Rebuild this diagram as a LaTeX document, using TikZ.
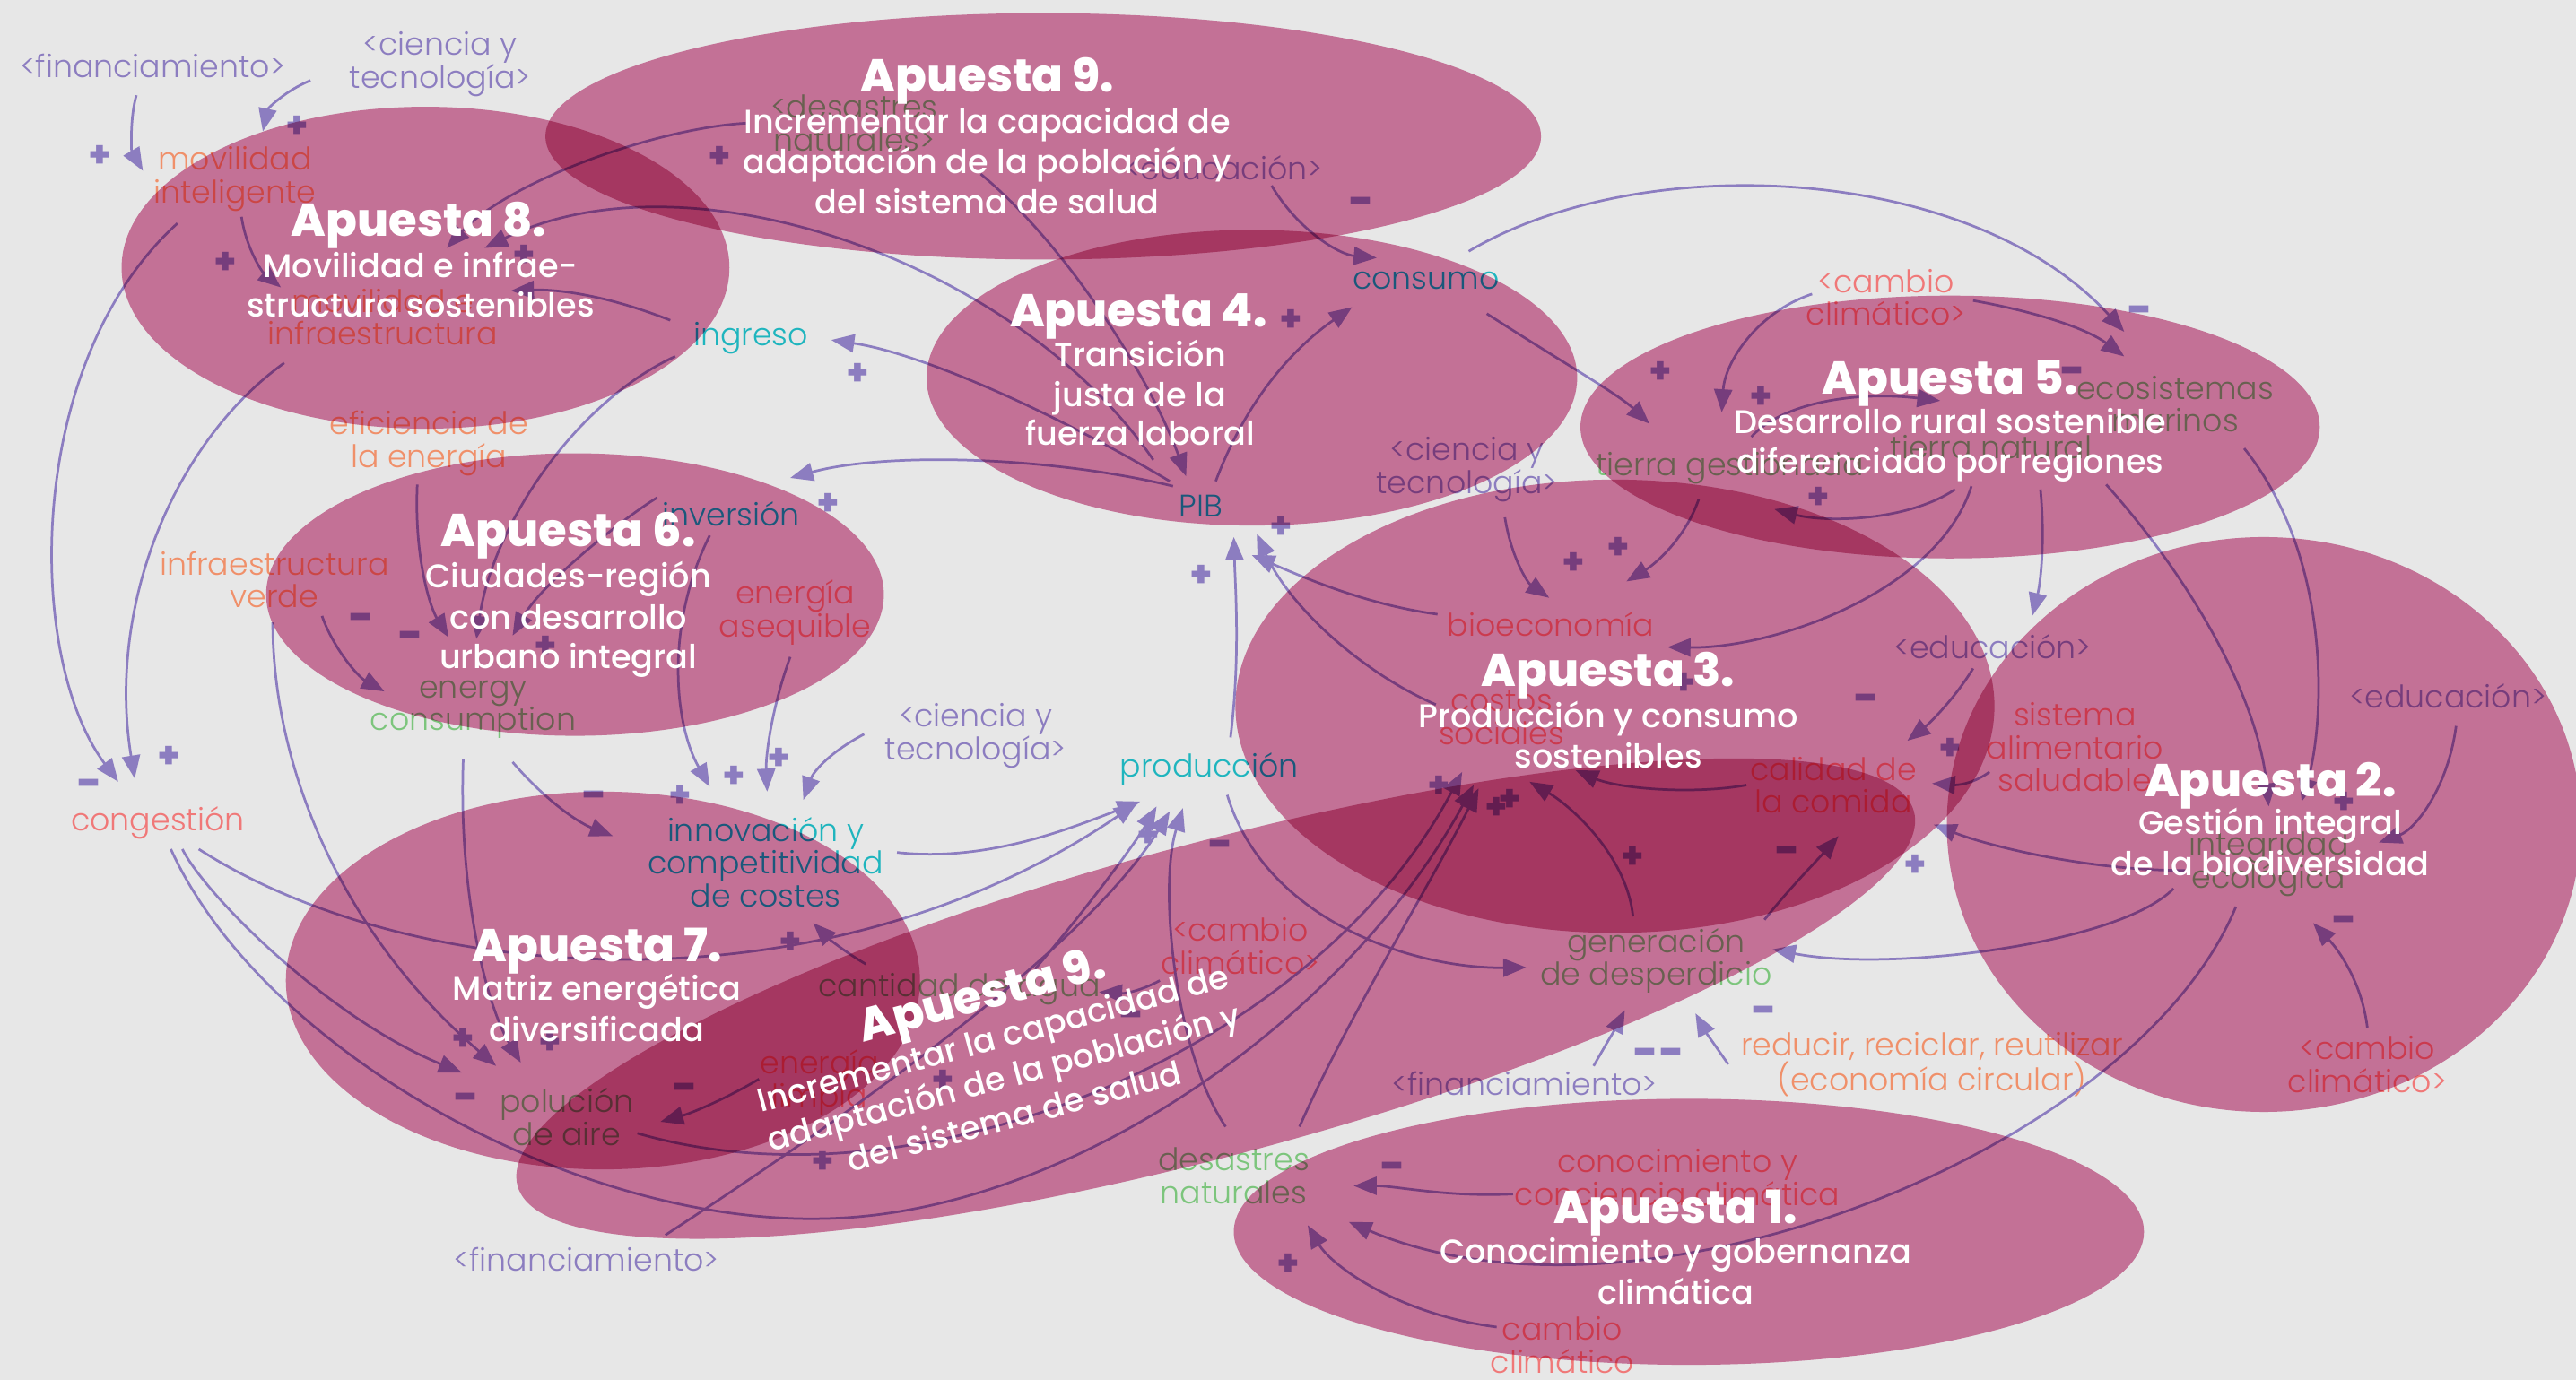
\documentclass[tikz,border=0pt]{standalone}
\usepackage{fontspec}
\setmainfont{Poppins}
\newfontfamily\lblfont{Poppins Light}
\newfontfamily\ttlfont{Poppins ExtraBold}
\newfontfamily\apsubfont{Poppins Medium}
\usetikzlibrary{arrows.meta}
\definecolor{bgc}{HTML}{E7E7E7}
\definecolor{ellc}{HTML}{D87DA6}
\definecolor{lav}{HTML}{8C7DC0}
\definecolor{tealc}{HTML}{1FB5BE}
\definecolor{grn}{HTML}{7CC57C}
\definecolor{org}{HTML}{F0906A}
\definecolor{sal}{HTML}{F07878}
\tikzset{
 lbl/.style={font=\lblfont\fontsize{19}{20}\selectfont, align=center, inner sep=1pt},
 sgnp/.style={font=\ttlfont\fontsize{22}{22}\selectfont, text=lav, inner sep=0pt},
 sgnm/.style={font=\ttlfont\fontsize{26}{26}\selectfont, text=lav, inner sep=0pt},
 arr/.style={draw=lav, line width=1.5pt, -{Triangle[length=14pt,width=11pt]}},
 ttl/.style={font=\ttlfont\fontsize{28}{30}\selectfont, text=white, anchor=base, inner sep=0pt},
 sub/.style={font=\apsubfont\fontsize{20}{24}\selectfont, text=white, anchor=base, inner sep=0pt},
 ell/.style={fill=ellc}
}
\begin{document}
\begin{tikzpicture}[x=1pt,y=-1pt]
\useasboundingbox (0,0) rectangle (1568,840);
\fill[bgc] (0,0) rectangle (1568,840);
\clip (0,0) rectangle (1568,840);

% ---------- labels ----------
\node[lbl,text=lav] (fin1) at (93,40) {<financiamiento>};
\node[lbl,text=lav] (cyt1) at (268,39) {<ciencia y\\tecnología>};
\node[lbl,text=org] (movint) at (143,109) {movilidad\\inteligente};
\node[lbl,text=org] (movinf) at (233,193) {movilidad e\\infraestructura};
\node[lbl,text=grn] (des1) at (520,75) {<desastres\\naturales>};
\node[lbl,text=lav] (edu1) at (745,102) {<educación>};
\node[lbl,text=tealc] (ingreso) at (457,206) {ingreso};
\node[lbl,text=tealc] (consumo) at (868,171) {consumo};
\node[lbl,text=sal] (cc1) at (1148,181) {<cambio\\climático>};
\node[lbl,text=grn] (ecomar) at (1324,246) {ecosistemas\\marinos};
\node[lbl,text=grn] (tgest) at (1053,285) {tierra gestionada};
\node[lbl,text=grn] (tnat) at (1212,272) {tierra natural};
\node[lbl,text=lav] (cyt2) at (893,286) {<ciencia y\\tecnología>};
\node[lbl,text=tealc] (pib) at (731,308) {PIB};
\node[lbl,text=tealc] (inversion) at (445,313) {inversión};
\node[lbl,text=org] (efic) at (261,270) {eficiencia de\\la energía};
\node[lbl,text=org] (infverde) at (167,353) {infraestructura\\verde};
\node[lbl,text=sal] (easeq) at (484,373) {energía\\asequible};
\node[lbl,text=sal] (bioec) at (944,380) {bioeconomía};
\node[lbl,text=lav] (edu2) at (1213,394) {<educación>};
\node[lbl,text=lav] (edu3) at (1490,424) {<educación>};
\node[lbl,text=sal] (costos) at (914,437) {costos\\sociales};
\node[lbl,text=sal] (sistali) at (1263,455) {sistema\\alimentario\\saludable};
\node[lbl,text=sal] (calidad) at (1116,478) {calidad de\\la comida};
\node[lbl,text=grn] (energy) at (288,432) {energy\\consumption};
\node[lbl,text=lav] (cyt3) at (594,448) {<ciencia y\\tecnología>};
\node[lbl,text=tealc] (produccion) at (736,468) {producción};
\node[lbl,text=tealc] (innov) at (466,525) {innovación y\\competitividad\\de costes};
\node[lbl,text=sal] (congestion) at (96,501) {congestión};
\node[lbl,text=grn] (integ) at (1381,526) {integridad\\ecológica};
\node[lbl,text=grn] (genera) at (1008,585) {generación\\de desperdicio};
\node[lbl,text=sal] (cc2) at (755,576) {<cambio\\climático>};
\node[lbl,text=grn] (agua) at (584,602) {cantidad de agua};
\node[lbl,text=sal] (elimpia) at (499,659) {energía\\limpia};
\node[lbl,text=org] (reducir) at (1176,648) {reducir, reciclar, reutilizar\\(economía circular)};
\node[lbl,text=lav] (fin2) at (928,660) {<financiamiento>};
\node[lbl,text=grn] (polucion) at (345,680) {polución\\de aire};
\node[lbl,text=sal] (cc3) at (1441,648) {<cambio\\climático>};
\node[lbl,text=grn] (desastres) at (751,716) {desastres\\naturales};
\node[lbl,text=sal] (conoc) at (1021,717) {conocimiento y\\conciencia climática};
\node[lbl,text=lav] (fin3) at (357,767) {<financiamiento>};
\node[lbl,text=sal] (cambio) at (951,819) {cambio\\climático};

% ---------- connectors ----------
\draw[arr] ([shift={(-10,18)}]fin1.center) .. controls (79,72) and (80,92) .. ([shift={(-56,-5)}]movint.center);
\draw[arr] ([shift={(-79,10)}]cyt1.center) .. controls (174,55) and (163,66) .. ([shift={(17,-29)}]movint.center);
\draw[arr] ([shift={(4,23)}]movint.center) .. controls (150,152) and (160,166) .. ([shift={(-62,-18)}]movinf.center);
\draw[arr] ([shift={(-35,27)}]movint.center) .. controls (15,220) and (15,400) .. ([shift={(-24,-25)}]congestion.center);
\draw[arr] ([shift={(-60,28)}]movinf.center) .. controls (105,270) and (65,370) .. ([shift={(-14,-27)}]congestion.center);
\draw[arr] ([shift={(-66,0)}]des1.center) .. controls (400,78) and (310,110) .. ([shift={(39,-42)}]movinf.center);
\draw[arr] ([shift={(-29,-28)}]pib.center) .. controls (620,160) and (420,90) .. ([shift={(62,-42)}]movinf.center);
\draw[arr] ([shift={(-49,-11)}]ingreso.center) .. controls (370,180) and (340,176) .. ([shift={(78,-16)}]movinf.center);
\draw[arr] ([shift={(-46,11)}]ingreso.center) .. controls (350,245) and (300,320) .. ([shift={(2,-43)}]energy.center);
\draw[arr] ([shift={(-7,25)}]efic.center) .. controls (252,340) and (262,370) .. ([shift={(-15,-44)}]energy.center);
\draw[arr] ([shift={(-45,-10)}]inversion.center) .. controls (380,315) and (330,355) .. ([shift={(24,-45)}]energy.center);
\draw[arr] ([shift={(29,22)}]infverde.center) .. controls (203,395) and (218,412) .. ([shift={(-54,-11)}]energy.center);
\draw[arr] ([shift={(-6,30)}]energy.center) .. controls (279,540) and (295,610) .. ([shift={(-28,-33)}]polucion.center);
\draw[arr] ([shift={(24,32)}]energy.center) .. controls (330,485) and (350,500) .. ([shift={(-93,-16)}]innov.center);
\draw[arr] ([shift={(-1,26)}]infverde.center) .. controls (166,470) and (210,570) .. ([shift={(-43,-31)}]polucion.center);
\draw[arr] ([shift={(15,16)}]congestion.center) .. controls (125,545) and (200,620) .. ([shift={(-64,-27)}]polucion.center);
\draw[arr] ([shift={(25,16)}]congestion.center) .. controls (250,600) and (500,620) .. ([shift={(-44,21)}]produccion.center);
\draw[arr] ([shift={(8,16)}]congestion.center) .. controls (160,640) and (350,745) .. (500,742) .. controls (650,740) and (820,620) .. ([shift={(-17,41)}]costos.center);
\draw[arr] ([shift={(43,10)}]polucion.center) .. controls (560,740) and (800,640) .. ([shift={(-24,33)}]costos.center);
\draw[arr] ([shift={(40,-30)}]desastres.center) .. controls (820,620) and (870,540) .. ([shift={(-14,43)}]costos.center);
\draw[arr] ([shift={(-53,0)}]calidad.center) .. controls (1030,484) and (985,480) .. ([shift={(45,32)}]costos.center);
\draw[arr] ([shift={(-14,-27)}]genera.center) .. controls (990,520) and (955,490) .. ([shift={(17,39)}]costos.center);
\draw[arr] ([shift={(11,16)}]produccion.center) .. controls (770,560) and (860,590) .. ([shift={(-79,4)}]genera.center);
\draw[arr] ([shift={(13,-19)}]produccion.center) .. controls (755,400) and (752,360) .. ([shift={(20,19)}]pib.center);
\draw[arr] ([shift={(-69,-6)}]bioec.center) .. controls (830,368) and (790,350) .. ([shift={(31,30)}]pib.center);
\draw[arr] ([shift={(-40,-8)}]costos.center) .. controls (830,410) and (785,370) .. ([shift={(34,17)}]pib.center);
\draw[arr] ([shift={(-19,-15)}]pib.center) .. controls (640,250) and (560,215) .. ([shift={(49,1)}]ingreso.center);
\draw[arr] ([shift={(-17,-12)}]pib.center) .. controls (640,278) and (540,275) .. ([shift={(36,-22)}]inversion.center);
\draw[arr] ([shift={(77,31)}]des1.center) .. controls (650,150) and (700,230) .. ([shift={(-9,-18)}]pib.center);
\draw[arr] ([shift={(29,11)}]edu1.center) .. controls (790,140) and (815,155) .. ([shift={(-30,-14)}]consumo.center);
\draw[arr] ([shift={(9,-15)}]pib.center) .. controls (760,240) and (790,210) .. ([shift={(-45,16)}]consumo.center);
\draw[arr] ([shift={(37,20)}]consumo.center) .. controls (950,220) and (985,240) .. ([shift={(-49,-27)}]tgest.center);
\draw[arr] ([shift={(26,-18)}]consumo.center) .. controls (1000,90) and (1200,100) .. ([shift={(-31,-44)}]ecomar.center);
\draw[arr] ([shift={(53,2)}]cc1.center) .. controls (1240,190) and (1270,200) .. ([shift={(-31,-29)}]ecomar.center);
\draw[arr] ([shift={(-45,-2)}]cc1.center) .. controls (1070,190) and (1050,220) .. ([shift={(-5,-34)}]tgest.center);
\draw[arr] ([shift={(13,-19)}]tgest.center) .. controls (1085,245) and (1130,238) .. ([shift={(-31,-28)}]tnat.center);
\draw[arr] ([shift={(-22,26)}]tnat.center) .. controls (1160,318) and (1110,318) .. ([shift={(27,25)}]tgest.center);
\draw[arr] ([shift={(-19,19)}]tgest.center) .. controls (1025,330) and (1005,345) .. ([shift={(46,-26)}]bioec.center);
\draw[arr] ([shift={(23,29)}]cyt2.center) .. controls (920,340) and (930,355) .. ([shift={(-1,-16)}]bioec.center);
\draw[arr] ([shift={(-12,24)}]tnat.center) .. controls (1180,360) and (1080,395) .. ([shift={(71,14)}]bioec.center);
\draw[arr] ([shift={(30,26)}]tnat.center) .. controls (1245,330) and (1242,355) .. ([shift={(24,-19)}]edu2.center);
\draw[arr] ([shift={(70,23)}]tnat.center) .. controls (1340,360) and (1375,430) .. ([shift={(0,-35)}]integ.center);
\draw[arr] ([shift={(42,27)}]ecomar.center) .. controls (1420,340) and (1415,440) .. ([shift={(20,-38)}]integ.center);
\draw[arr] ([shift={(5,18)}]edu3.center) .. controls (1490,480) and (1470,505) .. ([shift={(67,-13)}]integ.center);
\draw[arr] ([shift={(0,-22)}]cc3.center) .. controls (1438,600) and (1425,580) .. ([shift={(27,36)}]integ.center);
\draw[arr] ([shift={(-58,15)}]integ.center) .. controls (1290,575) and (1150,592) .. ([shift={(71,-7)}]genera.center);
\draw[arr] ([shift={(-20,26)}]integ.center) .. controls (1300,700) and (1000,820) .. ([shift={(70,28)}]desastres.center);
\draw[arr] ([shift={(-100,10)}]conoc.center) .. controls (880,729) and (850,722) .. ([shift={(73,6)}]desastres.center);
\draw[arr] ([shift={(-40,-11)}]cambio.center) .. controls (850,800) and (810,770) .. ([shift={(45,30)}]desastres.center);
\draw[arr] ([shift={(-52,15)}]sistali.center) .. controls (1200,478) and (1190,478) .. ([shift={(60,-1)}]calidad.center);
\draw[arr] ([shift={(-12,13)}]edu2.center) .. controls (1190,425) and (1175,440) .. ([shift={(45,-27)}]calidad.center);
\draw[arr] ([shift={(-51,4)}]integ.center) .. controls (1270,530) and (1210,515) .. ([shift={(61,24)}]calidad.center);
\draw[arr] ([shift={(66,-25)}]genera.center) .. controls (1090,540) and (1105,525) .. ([shift={(3,31)}]calidad.center);
\draw[arr] ([shift={(42,-11)}]fin2.center) .. controls (978,635) and (984,625) .. ([shift={(-19,30)}]genera.center);
\draw[arr] ([shift={(-124,0)}]reducir.center) .. controls (1045,638) and (1038,628) .. ([shift={(24,32)}]genera.center);
\draw[arr] ([shift={(-68,-1)}]cyt3.center) .. controls (505,458) and (495,470) .. ([shift={(23,-38)}]innov.center);
\draw[arr] ([shift={(-3,27)}]easeq.center) .. controls (470,430) and (466,460) .. ([shift={(1,-43)}]innov.center);
\draw[arr] ([shift={(-13,13)}]inversion.center) .. controls (405,380) and (410,440) .. ([shift={(-34,-46)}]innov.center);
\draw[arr] ([shift={(80,-6)}]innov.center) .. controls (600,525) and (650,505) .. ([shift={(-42,20)}]produccion.center);
\draw[arr] ([shift={(-57,-15)}]agua.center) .. controls (515,580) and (505,572) .. ([shift={(29,37)}]innov.center);
\draw[arr] ([shift={(-49,21)}]cc2.center) .. controls (695,603) and (685,605) .. ([shift={(85,2)}]agua.center);
\draw[arr] ([shift={(46,-12)}]agua.center) .. controls (660,555) and (690,515) .. ([shift={(-32,23)}]produccion.center);
\draw[arr] ([shift={(-5,-30)}]desastres.center) .. controls (715,640) and (705,540) .. ([shift={(-16,24)}]produccion.center);
\draw[arr] ([shift={(48,-15)}]fin3.center) .. controls (500,690) and (660,580) .. ([shift={(-24,26)}]produccion.center);
\draw[arr] ([shift={(-37,-2)}]elimpia.center) .. controls (440,670) and (420,678) .. ([shift={(57,3)}]polucion.center);

% ---------- polarity signs ----------
\node[sgnp] (g1) at (61,95) {+};
\node[sgnp] (g2) at (181,77) {+};
\node[sgnp] (g3) at (137,160) {+};
\node[sgnm] (g4) at (55,480) {-};
\node[sgnp] (g5) at (103,461) {+};
\node[sgnp] (g6) at (438,96) {+};
\node[sgnp] (g7) at (319,156) {+};
\node[sgnp] (g8) at (522,228) {+};
\node[sgnp] (g9) at (504,307) {+};
\node[sgnm] (g10) at (829,126) {-};
\node[sgnp] (g11) at (786,195) {+};
\node[sgnp] (g12) at (1011,227) {+};
\node[sgnp] (g13) at (1072,242) {+};
\node[sgnm] (g14) at (1262,229) {-};
\node[sgnm] (g15) at (1303,192) {-};
\node[sgnp] (g16) at (1107,303) {+};
\node[sgnp] (g17) at (985,334) {+};
\node[sgnp] (g18) at (958,343) {+};
\node[sgnm] (g19) at (220,379) {-};
\node[sgnm] (g20) at (250,390) {-};
\node[sgnp] (g21) at (332,394) {+};
\node[sgnp] (g22) at (282,633) {+};
\node[sgnm] (g23) at (284,671) {-};
\node[sgnp] (g24) at (335,635) {+};
\node[sgnm] (g25) at (362,487) {-};
\node[sgnp] (g26) at (414,485) {+};
\node[sgnp] (g27) at (447,473) {+};
\node[sgnp] (g28) at (474,462) {+};
\node[sgnp] (g29) at (731,351) {+};
\node[sgnp] (g30) at (780,321) {+};
\node[sgnp] (g31) at (481,574) {+};
\node[sgnp] (g32) at (699,509) {+};
\node[sgnm] (g33) at (743,517) {-};
\node[sgnm] (g34) at (689,621) {-};
\node[sgnm] (g35) at (417,665) {-};
\node[sgnp] (g36) at (501,708) {+};
\node[sgnp] (g37) at (574,658) {+};
\node[sgnp] (g38) at (876,479) {+};
\node[sgnp] (g39) at (911,492) {+};
\node[sgnp] (g40) at (919,487) {+};
\node[sgnp] (g41) at (994,522) {+};
\node[sgnm] (g42) at (1088,521) {-};
\node[sgnp] (g43) at (1166,527) {+};
\node[sgnp] (g44) at (1187,456) {+};
\node[sgnm] (g45) at (1136,428) {-};
\node[sgnp] (g46) at (1427,489) {+};
\node[sgnm] (g47) at (1427,563) {-};
\node[sgnm] (g48) at (1002,644) {-};
\node[sgnm] (g49) at (1018,644) {-};
\node[sgnm] (g50) at (1074,618) {-};
\node[sgnm] (g51) at (848,713) {-};
\node[sgnp] (g52) at (784,770) {+};
\node[sgnp] (g53) at (1025,416) {+};

% ---------- apuesta ellipses (multiply) ----------
\begin{scope}[blend mode=multiply]
\fill[ell] (635,83) ellipse [x radius=303pt, y radius=75pt];
\fill[ell] (259,163) ellipse [x radius=185pt, y radius=98pt];
\fill[ell] (762,230) ellipse [x radius=198pt, y radius=90pt];
\fill[ell] (1187,260) ellipse [x radius=225pt, y radius=80pt];
\fill[ell] (350,362) ellipse [x radius=188pt, y radius=86pt];
\fill[ell] (983,430) ellipse [x radius=231pt, y radius=138pt];
\fill[ell] (1378,502) ellipse [x radius=193pt, y radius=175pt];
\fill[ell] (367,597) ellipse [x radius=193pt, y radius=115pt];
\fill[ell, rotate around={15:(740,608)}] (740,608) ellipse [x radius=440pt, y radius=95pt];
\fill[ell] (1028,750) ellipse [x radius=277pt, y radius=81pt];
\end{scope}

% ---------- titles ----------
\node[ttl] (t9) at (601,56) {Apuesta 9.};
\node[sub] (t9a) at (601,81) {Incrementar la capacidad de};
\node[sub] (t9b) at (601,105.5) {adaptación de la población y};
\node[sub] (t9c) at (601,130) {del sistema de salud};

\node[ttl] (t8) at (255,144) {Apuesta 8.};
\node[sub] (t8a) at (256,169) {Movilidad e infrae-};
\node[sub] (t8b) at (256,193) {structura sostenibles};

\node[ttl] (t4) at (693,199) {Apuesta 4.};
\node[sub] (t4a) at (694,223) {Transición};
\node[sub] (t4b) at (694,247.5) {justa de la};
\node[sub] (t4c) at (694,271) {fuerza laboral};

\node[ttl] (t5) at (1187,240) {Apuesta 5.};
\node[sub] (t5a) at (1187,264) {Desarrollo rural sostenible};
\node[sub] (t5b) at (1187,288) {diferenciado por regiones};

\node[ttl] (t6) at (346,333) {Apuesta 6.};
\node[sub] (t6a) at (346,358) {Ciudades-región};
\node[sub] (t6b) at (346,383) {con desarrollo};
\node[sub] (t6c) at (346,407) {urbano integral};

\node[ttl] (t3) at (979,418) {Apuesta 3.};
\node[sub] (t3a) at (979,443) {Producción y consumo};
\node[sub] (t3b) at (979,467.5) {sostenibles};

\node[ttl] (t2) at (1382,485) {Apuesta 2.};
\node[sub] (t2a) at (1382,508) {Gestión integral};
\node[sub] (t2b) at (1382,533) {de la biodiversidad};

\node[ttl] (t7) at (363.5,585.5) {Apuesta 7.};
\node[sub] (t7a) at (363.5,609) {Matriz energética};
\node[sub] (t7b) at (363.5,634) {diversificada};

\node[ttl] (t1) at (1020,745) {Apuesta 1.};
\node[sub] (t1a) at (1020,769) {Conocimiento y gobernanza};
\node[sub] (t1b) at (1020,794) {climática};

\begin{scope}[shift={(600,615)}, rotate=15]
\node[ttl, transform shape] (t9r) at (0,0) {Apuesta 9.};
\node[sub, transform shape] (t9ra) at (0,25) {Incrementar la capacidad de};
\node[sub, transform shape] (t9rb) at (0,49.5) {adaptación de la población y};
\node[sub, transform shape] (t9rc) at (0,74) {del sistema de salud};
\end{scope}
\end{tikzpicture}
\end{document}
